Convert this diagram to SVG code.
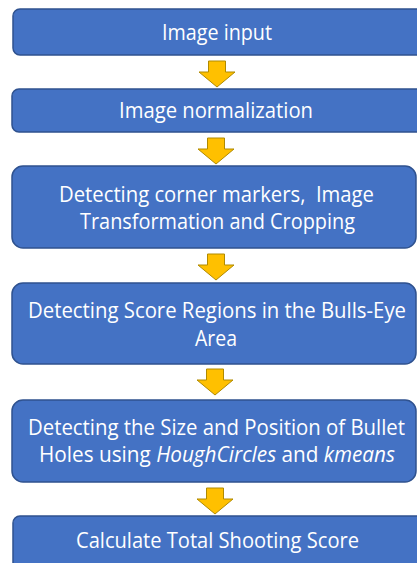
<svg xmlns="http://www.w3.org/2000/svg" width="417" height="563" viewBox="0 0 417 563">
<style>
.box{fill:#4472C4;stroke:#2F528F;stroke-width:1.5}
.arr{fill:#FFC000;stroke:#B08A00;stroke-width:1}
.t{font-family:"Open Sans","Noto Sans",sans-serif;font-size:21.5px;fill:#FFFFFF;text-anchor:middle}
</style>
<defs>
<path id="arrow" d="M-8.5,0 H8.5 V11 H18 L0,26 L-18,11 H-8.5 Z"/>
</defs>
<rect width="417" height="563" fill="#FFFFFF"/>
<g id="connectors">
<use href="#arrow" class="arr" x="217" y="61"/>
<use href="#arrow" class="arr" x="216" y="138"/>
<use href="#arrow" class="arr" x="216" y="254"/>
<use href="#arrow" class="arr" x="215" y="369"/>
<use href="#arrow" class="arr" x="215" y="488"/>
</g>
<g id="n1">
<rect class="box" x="13" y="9" width="412" height="46" rx="7"/>
<text class="t" x="217" y="40" textLength="110" lengthAdjust="spacingAndGlyphs">Image input</text>
</g>
<g id="n2">
<rect class="box" x="12" y="89" width="413" height="43" rx="7"/>
<text class="t" x="216" y="118" textLength="194" lengthAdjust="spacingAndGlyphs">Image normalization</text>
</g>
<g id="n3">
<rect class="box" x="12" y="166" width="404" height="82" rx="11"/>
<text class="t" x="216.5" y="202" textLength="315" lengthAdjust="spacingAndGlyphs" xml:space="preserve">Detecting corner markers,  Image</text>
<text class="t" x="217.5" y="229" textLength="275" lengthAdjust="spacingAndGlyphs">Transformation and Cropping</text>
</g>
<g id="n4">
<rect class="box" x="12" y="283" width="404" height="81" rx="11"/>
<text class="t" x="217" y="318" textLength="378" lengthAdjust="spacingAndGlyphs">Detecting Score Regions in the Bulls-Eye</text>
<text class="t" x="216" y="346" textLength="42" lengthAdjust="spacingAndGlyphs">Area</text>
</g>
<g id="n5">
<rect class="box" x="12" y="400" width="404" height="82" rx="11"/>
<text class="t" x="216.5" y="435" textLength="377" lengthAdjust="spacingAndGlyphs">Detecting the Size and Position of Bullet</text>
<text class="t" x="217" y="462" textLength="356" lengthAdjust="spacingAndGlyphs">Holes using <tspan font-style="italic">HoughCircles</tspan> and <tspan font-style="italic">kmeans</tspan></text>
</g>
<g id="n6">
<rect class="box" x="13" y="516" width="412" height="60" rx="7"/>
<text class="t" x="217.5" y="548" textLength="283" lengthAdjust="spacingAndGlyphs">Calculate Total Shooting Score</text>
</g>
</svg>
